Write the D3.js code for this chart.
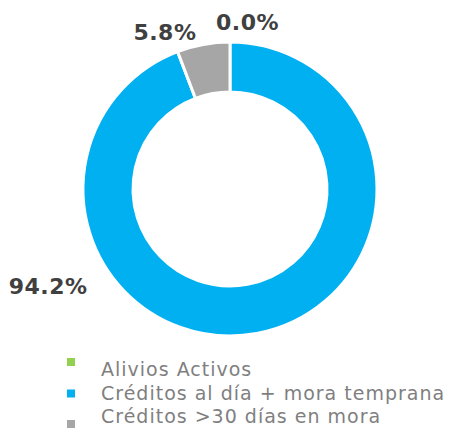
<!DOCTYPE html>
<html>
<head>
<meta charset="utf-8">
<script src="https://cdn.jsdelivr.net/npm/d3@7"></script>
<style>
  body { margin: 0; background: #fff; }
  text { font-family: "DejaVu Sans", sans-serif; }
</style>
</head>
<body>
<svg></svg>
<script>
var width = 449,
    height = 429;

// Chart data
var categories = ['Alivios Activos', 'Créditos al día + mora temprana', 'Créditos >30 días en mora'];
var values = [0.0, 94.2, 5.8];
var labels = ['0.0%', '94.2%', '5.8%'];
var colors = ['#92d050', '#00b0f0', '#a6a6a6'];

var cx = 230,
    cy = 189,
    outerR = 147,
    innerR = 97;

// where each value label sits (angle in degrees, radius)
var labelPlace = [[6, 168], [242, 206], [-22.5, 170]];
// legend square offset from each text baseline
var squareOff = [-18, -10, -3];

var svg = d3.select('svg')
    .attr('width', width)
    .attr('height', height);

var pie = d3.pie()
    .sort(null)
    .value(function(d) { return d; });

var arc = d3.arc()
    .innerRadius(innerR)
    .outerRadius(outerR);

var g = svg.append('g')
    .attr('transform', 'translate(' + cx + ',' + cy + ')');

g.selectAll('path')
    .data(pie(values))
    .enter().append('path')
    .attr('d', arc)
    .style('fill', function(d, i) { return colors[i]; })
    .style('stroke', '#fff')
    .style('stroke-width', 3);

// Value labels
g.selectAll('text.val')
    .data(labels)
    .enter().append('text')
    .attr('class', 'val')
    .attr('x', function(d, i) { return labelPlace[i][1] * Math.sin(labelPlace[i][0] * Math.PI / 180); })
    .attr('y', function(d, i) { return -labelPlace[i][1] * Math.cos(labelPlace[i][0] * Math.PI / 180); })
    .attr('dy', '0.36em')
    .attr('text-anchor', 'middle')
    .style('font-size', '22px')
    .style('font-weight', 700)
    .style('letter-spacing', '0.5px')
    .style('fill', '#404040')
    .text(function(d) { return d; });

// Legend
var legend = svg.append('g')
    .attr('transform', 'translate(67,376)');

var row = legend.selectAll('g')
    .data(categories)
    .enter().append('g')
    .attr('transform', function(d, i) { return 'translate(0,' + (i * 23.5) + ')'; });

row.append('rect')
    .attr('y', function(d, i) { return squareOff[i]; })
    .attr('width', 8)
    .attr('height', 8)
    .style('fill', function(d, i) { return colors[i]; });

row.append('text')
    .attr('x', 34)
    .attr('y', 0)
    .style('font-size', '19px')
    .style('letter-spacing', '1px')
    .style('fill', '#7f7f7f')
    .text(function(d) { return d; });
</script>
</body>
</html>
